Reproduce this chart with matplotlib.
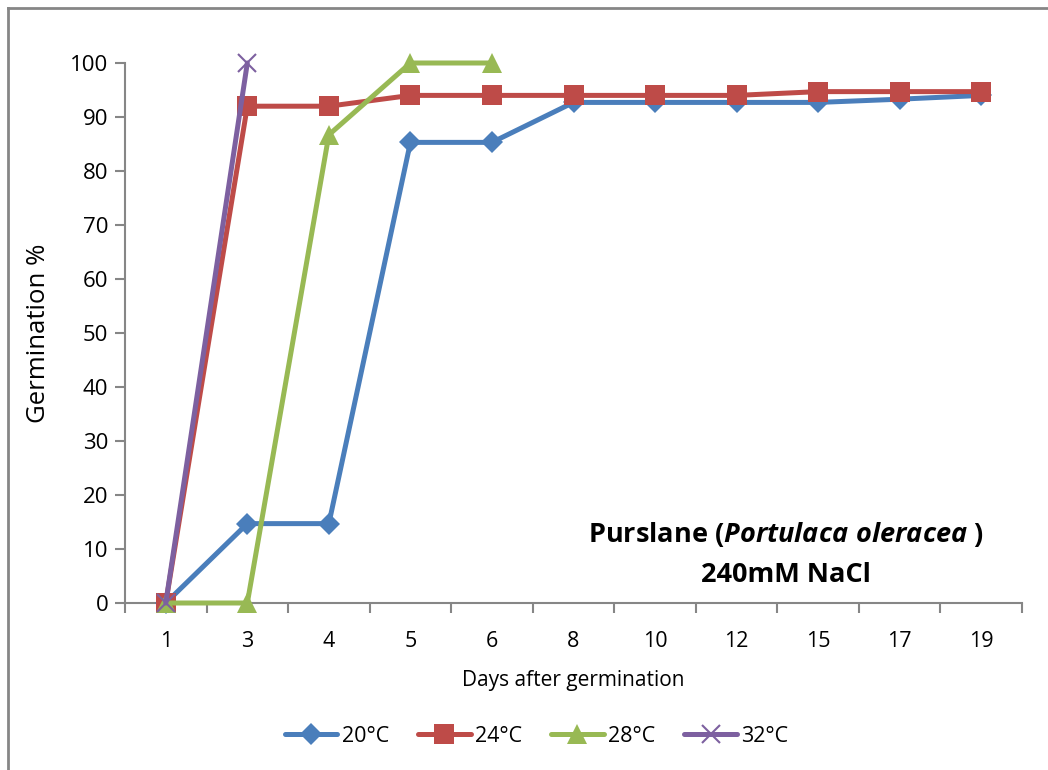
import matplotlib
matplotlib.use("Agg")
import matplotlib.pyplot as plt
from matplotlib.lines import Line2D
import numpy as np

days = ["1", "3", "4", "5", "6", "8", "10", "12", "15", "17", "19"]
t20 = [0, 14.7, 14.7, 85.3, 85.3, 92.7, 92.7, 92.7, 92.7, 93.3, 94.0]
t24 = [0, 92.0, 92.0, 94.0, 94.0, 94.0, 94.0, 94.0, 94.7, 94.7, 94.7]
t28 = [0, 0, 86.7, 100, 100]
t32 = [0, 100]
labels = ["20°C", "24°C", "28°C", "32°C"]
colors = ["#4a7ebb", "#be4b48", "#98b954", "#7d60a0"]

plt.rcParams['font.family'] = ['Open Sans', 'DejaVu Sans']
plt.rcParams['mathtext.fontset'] = 'custom'
plt.rcParams['mathtext.it'] = 'Open Sans:italic:bold'
plt.rcParams['mathtext.rm'] = 'Open Sans:bold'

fig = plt.figure(figsize=(10.48, 7.70), dpi=100)
W, H = 1048, 770
ax = fig.add_axes([125 / W, 1 - 603 / H, (1022 - 125) / W, (603 - 63) / H])

series = [t20, t24, t28, t32]
markers = ["D", "s", "^", "x"]
msizes = [11, 14, 14, 13]
for vals, lab, col, mk, ms in zip(series, labels, colors, markers, msizes):
    x = np.arange(len(vals))
    kw = dict(color=col, lw=3.6, marker=mk, markersize=ms, label=lab, clip_on=False,
              solid_capstyle='round', zorder=3)
    if mk == "x":
        kw.update(markeredgewidth=1.5)
    else:
        kw.update(markeredgewidth=0)
    ax.plot(x, vals, **kw)

ax.set_xlim(-0.5, len(days) - 0.5)
ax.set_ylim(0, 100)
ax.set_yticks(range(0, 101, 10))
ax.set_xticks(np.arange(len(days)))
ax.set_xticklabels(days)
ax.set_xticks(np.arange(-0.5, len(days), 1.0), minor=True)
ax.tick_params(axis='x', which='major', length=0, pad=20, labelsize=15.5)
ax.tick_params(axis='x', which='minor', length=7, direction='out', color='#868686', width=1.5)
ax.tick_params(axis='y', length=7, direction='out', color='#868686', width=1.5, labelsize=16, pad=5)
for s in ['top', 'right']:
    ax.spines[s].set_visible(False)
for s in ['left', 'bottom']:
    ax.spines[s].set_color('#868686')
    ax.spines[s].set_linewidth(1.5)

ax.set_ylabel("Germination %", fontsize=18.5, labelpad=14)
ax.set_xlabel("Days after germination", fontsize=15, labelpad=13)

ax.text(0.737, 0.091, r"Purslane ($\it{Portulaca\ oleracea}$ )" + "\n240mM NaCl",
        transform=ax.transAxes, ha='center', va='center', fontsize=19.5, fontweight='bold',
        linespacing=1.65)

leg = fig.legend(loc='center', bbox_to_anchor=(0.512, 1 - 736 / H), ncol=4, frameon=False,
                 fontsize=15.5, handlelength=2.45, handletextpad=0.2, columnspacing=1.35)

# frame lines (left and top)
fig.add_artist(Line2D([8 / W, 8 / W], [0, 1 - 8 / H], transform=fig.transFigure, color='#868686', lw=2))
fig.add_artist(Line2D([8 / W, 1], [1 - 8 / H, 1 - 8 / H], transform=fig.transFigure, color='#868686', lw=2))

fig.savefig("out.png", dpi=100)
